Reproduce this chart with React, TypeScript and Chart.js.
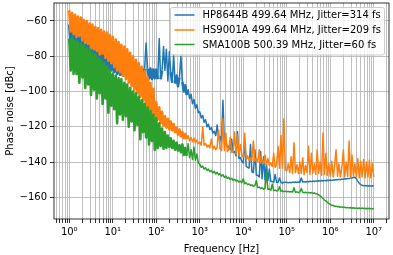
import React, { useEffect, useRef } from "react";
import { Chart, registerables } from "chart.js";

Chart.register(...registerables);

// Measurement frequencies (30 points per decade, 1 Hz .. 10 MHz)
const FREQ_HZ = [
  1, 1.08, 1.17, 1.26, 1.36, 1.47, 1.58, 1.71, 1.85, 2, 2.15, 2.33, 2.51, 2.71, 2.93, 3.16, 3.41, 3.69, 3.98, 4.3, 4.64, 5.01, 5.41, 5.84, 6.31, 6.81, 7.36, 7.94, 8.58, 9.26,
  10, 10.8, 11.7, 12.6, 13.6, 14.7, 15.8, 17.1, 18.5, 20, 21.5, 23.3, 25.1, 27.1, 29.3, 31.6, 34.1, 36.9, 39.8, 43, 46.4, 50.1, 54.1, 58.4, 63.1, 68.1, 73.6, 79.4, 85.8, 92.6,
  100, 108, 117, 126, 136, 147, 158, 171, 185, 200, 215, 233, 251, 271, 293, 316, 341, 369, 398, 430, 464, 501, 541, 584, 631, 681, 736, 794, 858, 926,
  1000, 1080, 1170, 1260, 1360, 1470, 1580, 1710, 1850, 2000, 2150, 2330, 2510, 2710, 2930, 3160, 3410, 3690, 3980, 4300, 4640, 5010, 5410, 5840, 6310, 6810, 7360, 7940, 8580, 9260,
  1e4, 1.08e4, 1.17e4, 1.26e4, 1.36e4, 1.47e4, 1.58e4, 1.71e4, 1.85e4, 2e4, 2.15e4, 2.33e4, 2.51e4, 2.71e4, 2.93e4, 3.16e4, 3.41e4, 3.69e4, 3.98e4, 4.3e4, 4.64e4, 5.01e4, 5.41e4, 5.84e4, 6.31e4, 6.81e4, 7.36e4, 7.94e4, 8.58e4, 9.26e4,
  1e5, 1.08e5, 1.17e5, 1.26e5, 1.36e5, 1.47e5, 1.58e5, 1.71e5, 1.85e5, 2e5, 2.15e5, 2.33e5, 2.51e5, 2.71e5, 2.93e5, 3.16e5, 3.41e5, 3.69e5, 3.98e5, 4.3e5, 4.64e5, 5.01e5, 5.41e5, 5.84e5, 6.31e5, 6.81e5, 7.36e5, 7.94e5, 8.58e5, 9.26e5,
  1e6, 1.08e6, 1.17e6, 1.26e6, 1.36e6, 1.47e6, 1.58e6, 1.71e6, 1.85e6, 2e6, 2.15e6, 2.33e6, 2.51e6, 2.71e6, 2.93e6, 3.16e6, 3.41e6, 3.69e6, 3.98e6, 4.3e6, 4.64e6, 5.01e6, 5.41e6, 5.84e6, 6.31e6, 6.81e6, 7.36e6, 7.94e6, 8.58e6, 9.26e6,
  1e7,
];

// HP8644B phase noise [dBc]
const HP8644B_DBC = [
  -62, -75, -63, -76, -64, -76.5, -65, -77, -66, -78.5, -67, -79, -68.5, -80, -69, -81, -70.5, -82, -72, -83, -73, -84, -74.5, -85.5, -76, -86, -77.5, -87.5, -79, -88,
  -80.5, -89, -82, -90, -83, -90.5, -84.5, -91, -85, -91.5, -85.5, -91.5, -86, -92, -86, -92, -86.5, -92, -86.5, -92, -86.5, -92.5, -87, -72.5, -87, -92.5, -87, -93, -87.5, -92.5,
  -87.5, -93, -70, -93, -88, -74.5, -88, -76, -94, -77.5, -89, -95, -79, -95.5, -91, -97, -92, -80, -94.5, -100, -96.5, -102, -99, -104, -101.5, -107, -104.5, -109.5, -107.5, -112,
  -111.5, -115, -113.5, -117.5, -116, -120, -118.5, -121.5, -120.5, -123.5, -122.5, -125, -119, -126.5, -125.5, -128.5, -105, -130, -129, -131.5, -131, -133, -127, -134.5, -134, -136.5, -122.7, -138, -137.5, -139.5,
  -140.5, -128, -142.5, -143, -143.5, -130, -145.5, -146, -133, -147.5, -147.5, -148.5, -134, -149.5, -137, -150, -141, -150.5, -144, -151, -151, -151.5, -147, -151.5, -151.5, -149, -151.5, -152, -151.5, -151.5,
  -151.5, -151.8, -151.5, -151.7, -151.4, -151.6, -151.3, -151.6, -151.3, -151.5, -149, -151.3, -151.1, -151.3, -151, -151.2, -150.9, -151.1, -150.8, -151, -150.7, -150.9, -150.6, -150.8, -150.5, -150.7, -150.4, -150.6, -150.3, -150.5,
  -150.2, -150.4, -150.1, -150.2, -149.9, -150.1, -149.8, -150, -149.7, -149.8, -149.5, -149.6, -149.3, -149.4, -149.1, -149, -148.8, -148.6, -149.5, -150.8, -152, -152.8, -153.2, -153.4, -153.5, -153.5, -153.6, -153.5, -153.6, -153.5,
  -153.6,
];

// HS9001A phase noise [dBc]
const HS9001A_DBC = [
  -54, -66, -55.5, -67.5, -56.5, -69, -57.5, -68.5, -58, -71, -59.5, -72.5, -60, -73, -61.5, -75.5, -62, -76, -63.5, -77, -64, -79, -65, -78.5, -66, -81, -66.5, -82.5, -68, -84,
  -69, -86, -70.5, -88, -72, -89, -73.5, -91, -74.5, -93, -76, -95, -78, -97, -80, -99, -82, -101, -84, -103, -86, -105, -88.5, -108, -92, -110, -95, -112, -98.5, -114,
  -106, -116, -109, -118, -111.5, -119.5, -114, -120.5, -115.5, -121.5, -117, -122, -118.5, -123, -120.5, -124.5, -121.5, -125.5, -123, -126.5, -124, -127, -125, -128, -126, -128.5, -126.5, -129, -127.5, -129.5,
  -128.8, -130.5, -120, -130.5, -129.5, -131.5, -130.5, -132, -127, -132.5, -131, -133, -131.5, -121.8, -132.5, -133.5, -115.5, -133.5, -123.5, -134, -133, -126, -134.5, -134.5, -123, -135.5, -124.5, -136, -130, -136.5,
  -137, -123.6, -138.5, -136.5, -139, -137.5, -139, -128, -139.5, -138, -140, -133, -140.5, -139, -141, -136, -141.5, -138, -142, -140.5, -142.5, -135, -143, -141.5, -131, -143.5, -125, -143.5, -115.5, -144.5,
  -145, -141, -146, -137, -146.5, -129, -146, -141.5, -146.5, -140, -146.5, -137.5, -147, -142, -146, -131, -147, -135, -146.5, -141, -147, -133, -146.5, -140, -147.5, -123.5, -147, -135, -147.5, -141,
  -148, -139.5, -148.5, -142, -133, -148, -141, -148.5, -143, -133, -148.5, -140, -148, -128, -148.5, -136, -148, -141, -148.5, -138, -149, -139.5, -148.5, -138.5, -149, -140, -148.5, -139, -149, -141,
  -148.5,
];

// SMA100B phase noise [dBc]
const SMA100B_DBC = [
  -70, -88, -69.5, -90, -71, -90, -72, -95, -73, -92, -74, -98, -75.5, -96, -76, -102, -78, -99, -79, -104, -81, -101, -82.5, -107, -84, -104, -86, -112, -88, -108,
  -90, -110, -91, -118, -92.5, -113, -93, -116, -95, -114, -96, -120, -98, -117, -100, -122, -101, -119, -103, -127, -105, -123, -107, -126, -109, -130, -111, -128, -113, -133,
  -115, -132, -118, -131, -121, -132.5, -123, -132, -125, -131.5, -126.5, -132, -128, -133, -129, -133.5, -130.5, -134.5, -130, -136, -132, -136.5, -129.5, -137.5, -133, -138.5, -131.5, -139, -135.5, -140.5,
  -141.2, -143, -142.3, -144, -143.2, -144.8, -144, -145.5, -144.8, -146.2, -145.3, -146.8, -145.8, -147.3, -146.6, -148, -147.2, -148.7, -147.9, -149.2, -148.7, -149.9, -149.2, -150.3, -149.8, -150.8, -150.3, -151.3, -150.9, -151.7,
  -149.5, -152.3, -151.8, -152.8, -152.4, -153.3, -152.9, -153.8, -153.4, -150.5, -154.5, -154.2, -155, -154.6, -155.4, -155, -146, -155.6, -155.3, -156, -152.5, -156.2, -155.9, -156.4, -156.1, -154, -156.6, -156.3, -156.8, -156.5,
  -156.9, -156.6, -157, -156.7, -157.1, -154.5, -157.2, -156.9, -157.3, -157, -155, -157.1, -157.4, -157.1, -157.5, -157.2, -157.6, -157.3, -157.7, -157.5, -158, -158, -158.6, -159.2, -159.9, -160.7, -161.5, -162.2, -162.9, -163.5,
  -164, -164.6, -164.5, -165.1, -165, -165.4, -165.2, -165.7, -165.4, -165.8, -165.6, -166, -165.7, -166.1, -165.8, -166.2, -165.9, -166.3, -166, -166.3, -166.1, -166.4, -166.1, -166.4, -166.2, -166.5, -166.2, -166.5, -166.3, -166.6,
  -166.4,
];

const SERIES_NAMES = [
  "HP8644B 499.64 MHz, Jitter=314 fs",
  "HS9001A 499.64 MHz, Jitter=209 fs",
  "SMA100B 500.39 MHz, Jitter=60 fs",
];
const SERIES_COLORS = ["#1f77b4", "#ff7f0e", "#2ca02c"];

const X_TICKS = [
  0.5, 0.6, 0.7, 0.8, 0.9,
  1, 2, 3, 4, 5, 6, 7, 8, 9,
  10, 20, 30, 40, 50, 60, 70, 80, 90,
  100, 200, 300, 400, 500, 600, 700, 800, 900,
  1e3, 2e3, 3e3, 4e3, 5e3, 6e3, 7e3, 8e3, 9e3,
  1e4, 2e4, 3e4, 4e4, 5e4, 6e4, 7e4, 8e4, 9e4,
  1e5, 2e5, 3e5, 4e5, 5e5, 6e5, 7e5, 8e5, 9e5,
  1e6, 2e6, 3e6, 4e6, 5e6, 6e6, 7e6, 8e6, 9e6,
  1e7, 2e7,
];
const X_MAJOR_TICKS = [1, 10, 100, 1e3, 1e4, 1e5, 1e6, 1e7];
const X_MAJOR_LABELS = ["10⁰", "10¹", "10²", "10³", "10⁴", "10⁵", "10⁶", "10⁷"];
const Y_TICKS = [-160, -140, -120, -100, -80, -60];

const X_MIN = 0.446;
const X_MAX = 2.24e7;
const Y_MIN = -172.3;
const Y_MAX = -49.8;

const FONT_FAMILY = "'DejaVu Sans', sans-serif";

const framePlugin = {
  id: "mplFrame",
  afterDatasetsDraw(chart: any) {
    const { ctx, chartArea } = chart;
    ctx.save();
    ctx.strokeStyle = "#000";
    ctx.lineWidth = 0.8;
    ctx.strokeRect(chartArea.left, chartArea.top, chartArea.right - chartArea.left, chartArea.bottom - chartArea.top);
    ctx.restore();
  },
};

const legendPlugin = {
  id: "mplLegend",
  afterDraw(chart: any) {
    const ctx = chart.ctx;
    ctx.save();
    const bx = 170.5, by = 7.5, bw = 214, bh = 47.5;
    ctx.beginPath();
    if (ctx.roundRect) ctx.roundRect(bx, by, bw, bh, 2);
    else ctx.rect(bx, by, bw, bh);
    ctx.fillStyle = "rgba(255,255,255,0.8)";
    ctx.fill();
    ctx.strokeStyle = "#cccccc";
    ctx.lineWidth = 1;
    ctx.stroke();
    const rows = [15, 30, 44.5];
    ctx.font = `10px ${FONT_FAMILY}`;
    ctx.textBaseline = "middle";
    ctx.textAlign = "left";
    SERIES_NAMES.forEach((name, k) => {
      ctx.beginPath();
      ctx.moveTo(174.5, rows[k]);
      ctx.lineTo(194.5, rows[k]);
      ctx.strokeStyle = SERIES_COLORS[k];
      ctx.lineWidth = 1.5;
      ctx.stroke();
      ctx.fillStyle = "#000";
      ctx.fillText(name, 202.5, rows[k] + 0.5);
    });
    ctx.restore();
  },
};

export default function App() {
  const ref = useRef<HTMLCanvasElement>(null);

  useEffect(() => {
    document.body.style.margin = "0";
    const canvas = ref.current;
    if (!canvas) return;
    Chart.defaults.font.family = FONT_FAMILY;
    Chart.defaults.font.size = 10;
    Chart.defaults.color = "#000";

    const toPoints = (vals: number[]) => FREQ_HZ.map((f, i) => ({ x: f, y: vals[i] }));
    const seriesValues = [HP8644B_DBC, HS9001A_DBC, SMA100B_DBC];

    // noisy low-frequency part is drawn as a dense band (thicker strokes on steep zig-zags)
    const bandWidth = (k: number) => (ctx: any) => {
      const p0 = ctx.p0, p1 = ctx.p1;
      if (p0.x > 186) return 1.5;
      const dy = Math.abs(p1.y - p0.y);
      if (dy < 4) return 1.5;
      if (k === 0 && p0.x > 138 && dy > 18) return 1.5;
      return 2.6;
    };

    const chart = new Chart(canvas, {
      type: "line",
      data: {
        datasets: seriesValues.map((vals, k) => ({
          label: SERIES_NAMES[k],
          data: toPoints(vals),
          borderColor: SERIES_COLORS[k],
          backgroundColor: SERIES_COLORS[k],
          borderWidth: 1.5,
          pointRadius: 0,
          pointHoverRadius: 0,
          tension: 0,
          fill: false,
          order: 3 - k,
          segment: { borderWidth: bandWidth(k) },
        })),
      },
      options: {
        animation: false,
        responsive: false,
        devicePixelRatio: 1,
        parsing: false,
        events: [],
        layout: { padding: { left: 0, top: 3, right: 4, bottom: 0 } },
        elements: { line: { borderJoinStyle: "round", borderCapStyle: "butt" } },
        plugins: { legend: { display: false }, tooltip: { enabled: false } },
        scales: {
          x: {
            type: "logarithmic",
            min: X_MIN,
            max: X_MAX,
            bounds: "data",
            afterBuildTicks: (s: any) => {
              s.ticks = X_TICKS.map((v) => ({ value: v, major: X_MAJOR_TICKS.includes(v) }));
            },
            afterFit: (s: any) => {
              s.height = 36;
              s.paddingLeft = 0;
              s.paddingRight = 0;
              s.paddingTop = 0;
              s.paddingBottom = 0;
            },
            ticks: {
              autoSkip: false,
              maxRotation: 0,
              minRotation: 0,
              padding: 3,
              color: "#000",
              font: { family: FONT_FAMILY, size: 10 },
              callback: (v: any) => {
                const k = X_MAJOR_TICKS.indexOf(Number(v));
                return k >= 0 ? X_MAJOR_LABELS[k] : "";
              },
            },
            grid: {
              color: "#b0b0b0",
              lineWidth: 0.8,
              tickLength: 4,
              tickColor: "#000",
              tickWidth: 0.8,
            },
            border: { display: false },
            title: {
              display: true,
              text: "Frequency [Hz]",
              color: "#000",
              font: { family: FONT_FAMILY, size: 10 },
              padding: { top: 1, bottom: 0 },
            },
          },
          y: {
            type: "linear",
            min: Y_MIN,
            max: Y_MAX,
            bounds: "data",
            afterBuildTicks: (s: any) => {
              s.ticks = Y_TICKS.map((v) => ({ value: v }));
            },
            afterFit: (s: any) => {
              s.width = 54;
              s.paddingLeft = 0;
              s.paddingRight = 0;
              s.paddingTop = 0;
              s.paddingBottom = 0;
            },
            ticks: {
              padding: 3,
              color: "#000",
              font: { family: FONT_FAMILY, size: 10 },
              callback: (v: any) => (Number(v) < 0 ? "\u2212" + Math.abs(Number(v)) : String(v)),
            },
            grid: {
              color: "#b0b0b0",
              lineWidth: 0.8,
              tickLength: 4,
              tickColor: "#000",
              tickWidth: 0.8,
            },
            border: { display: false },
            title: {
              display: true,
              text: "Phase noise [dBc]",
              color: "#000",
              font: { family: FONT_FAMILY, size: 10 },
              padding: { top: 4, bottom: 0 },
            },
          },
        },
      } as any,
      plugins: [framePlugin, legendPlugin],
    });

    return () => chart.destroy();
  }, []);

  return (
    <canvas
      ref={ref}
      width={393}
      height={255}
      style={{ display: "block", width: "393px", height: "255px" }}
    />
  );
}
